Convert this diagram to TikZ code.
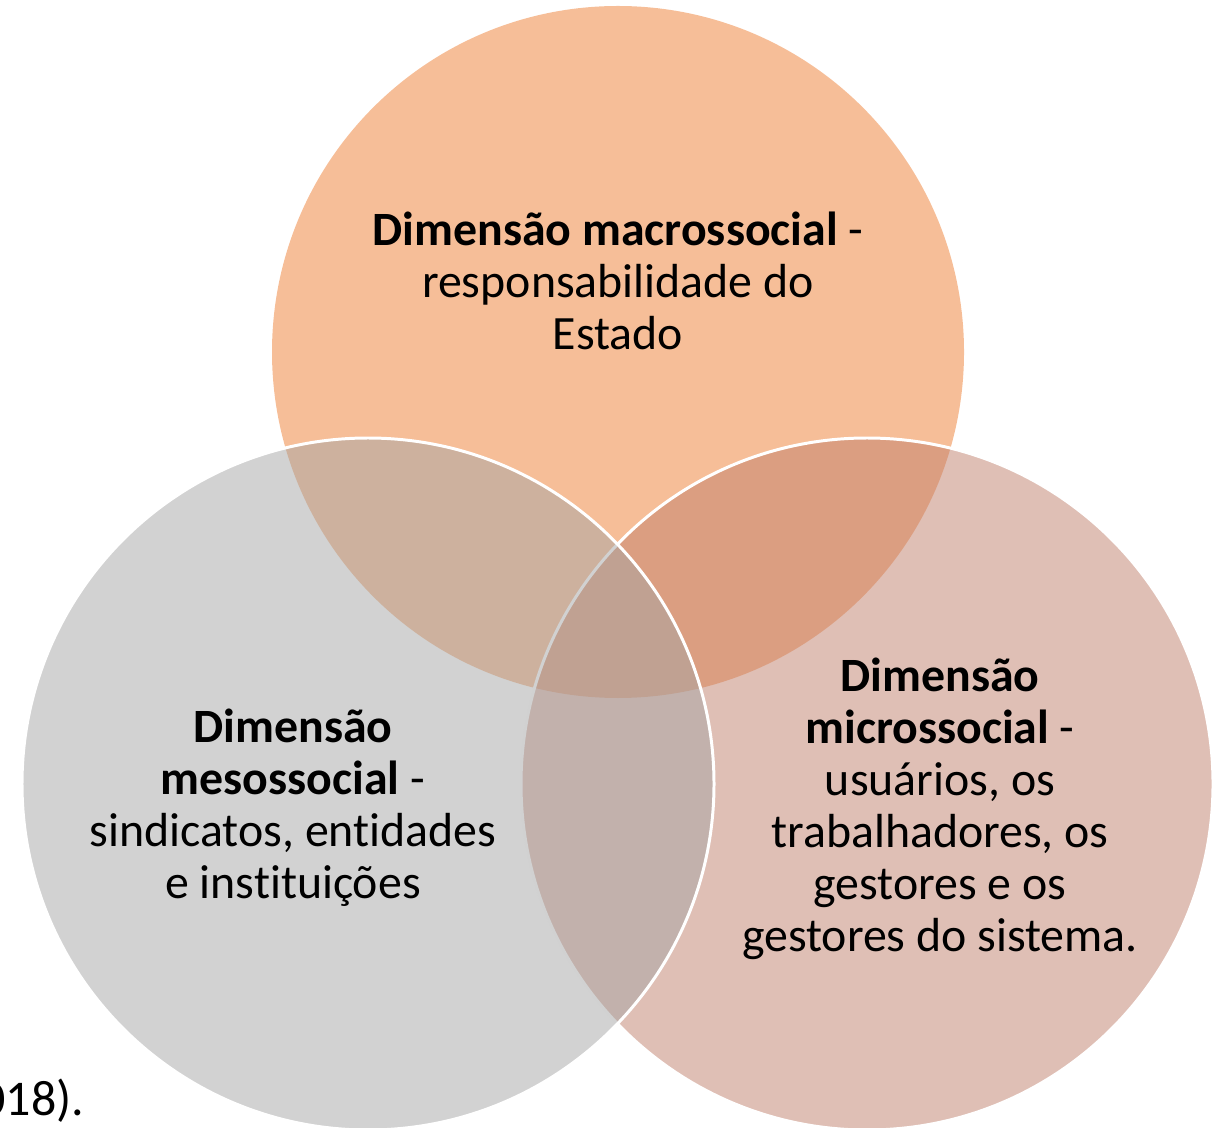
\documentclass[tikz,border=0pt]{standalone}
\usepackage{fontspec}
\setmainfont[Ligatures=NoCommon]{Carlito}
\definecolor{Orange}{HTML}{ED7D31}
\definecolor{Rose}{HTML}{C07F6B}
\definecolor{Grey}{HTML}{A5A5A5}
\tikzset{
	venn/.style={fill opacity=0.5, draw=white, line width=0.85pt},
	vtext/.style={align=center, text=black, font=\fontsize{13.6}{14.8}\selectfont}
}

\begin{document}
\begin{tikzpicture}[x=0.01cm, y=-0.01cm]
	\useasboundingbox (0,0) rectangle (1222,1128);
	\fill[Orange, fill opacity=0.5] (618,352) circle (346);
	\filldraw[venn, fill=Rose] (867,784) circle (346);
	\filldraw[venn, fill=Grey] (368,784) circle (346);

	\node[vtext] (macro) at (618,281) {\textbf{Dimensão macrossocial} -\\responsabilidade do\\Estado};
	\node[vtext] (meso) at (293,808) {\textbf{Dimensão}\\\textbf{mesossocial} -\\sindicatos, entidades\\e instituições};
	\node[vtext] (micro) at (940,809) {\textbf{Dimensão}\\\textbf{microssocial} -\\usuários, os\\trabalhadores, os\\gestores e os\\gestores do sistema.};
	\node[vtext, anchor=base east, inner sep=0pt, font=\fontsize{14.2}{17}\selectfont] (fonte) at (85,1115) {018).};
\end{tikzpicture}
\end{document}
